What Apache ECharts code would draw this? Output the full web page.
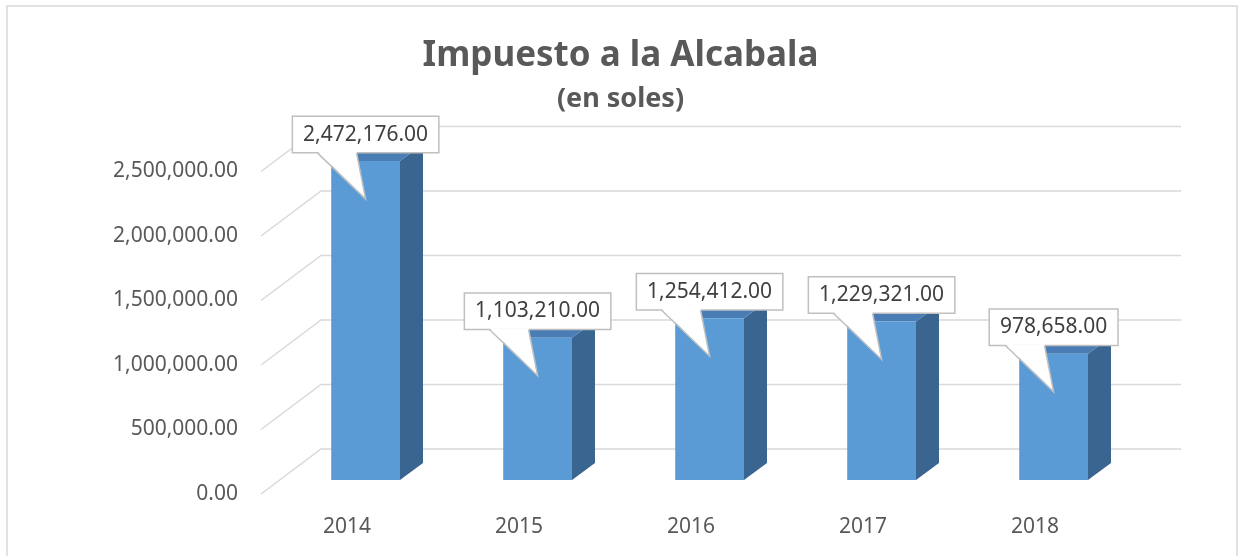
<!DOCTYPE html>
<html>
<head>
<meta charset="utf-8">
<script src="https://cdn.jsdelivr.net/npm/echarts@6/dist/echarts.min.js"></script>
<style>
  html, body { margin: 0; padding: 0; background: #fff; }
  #chart { width: 1241px; height: 556px; }
</style>
</head>
<body>
<div id="chart"></div>
<script>
// datos del gráfico
const years = ['2014', '2015', '2016', '2017', '2018'];
const recaudacion = [2472176, 1103210, 1254412, 1229321, 978658];
const yTicks = [0, 500000, 1000000, 1500000, 2000000, 2500000];

const fmt = v => v.toLocaleString('en-US', { minimumFractionDigits: 2, maximumFractionDigits: 2 });

// pseudo 3D: desplazamiento de la pared de fondo y de las barras
const WALL = [60, -45];
const BAR_FRONT = [18.6, -14];
const BAR_DEPTH = [23, -17];
const FONT = 'Noto Sans';

const chart = echarts.init(document.getElementById('chart'));

const option = {
  animation: false,
  backgroundColor: '#fff',
  title: {
    text: 'Impuesto a la Alcabala',
    subtext: '(en soles)',
    left: 'center',
    top: 34,
    itemGap: 12,
    textStyle: { fontFamily: FONT, fontWeight: 'bold', fontSize: 35, color: '#595959' },
    subtextStyle: { fontFamily: FONT, fontWeight: 'bold', fontSize: 27, color: '#595959' }
  },
  graphic: [{
    type: 'rect',
    shape: { x: 7, y: 6, width: 1230, height: 600 },
    style: { fill: 'none', stroke: '#d9d9d9', lineWidth: 1.5 },
    silent: true
  }],
  grid: { left: 261, right: 120, top: 171.5, bottom: 62 },
  xAxis: {
    type: 'category',
    data: years,
    axisLine: { show: false },
    axisTick: { show: false },
    axisLabel: { margin: 23, fontFamily: FONT, fontSize: 21, color: '#595959' }
  },
  yAxis: {
    type: 'value',
    min: 0,
    max: 2500000,
    interval: 500000,
    axisLine: { show: false },
    axisTick: { show: false },
    splitLine: { show: false },
    axisLabel: { margin: 23, fontFamily: FONT, fontSize: 21, color: '#595959', formatter: fmt }
  },
  series: [
    {
      // paredes: diagonal lateral + línea de la pared de fondo
      type: 'custom',
      clip: false,
      silent: true,
      data: yTicks.map(v => [0, v]),
      renderItem: (params, api) => {
        const cs = params.coordSys;
        const y = api.coord([0, api.value(1)])[1];
        return {
          type: 'polyline',
          shape: {
            points: [
              [cs.x, y],
              [cs.x + WALL[0], y + WALL[1]],
              [cs.x + cs.width + WALL[0], y + WALL[1]]
            ]
          },
          style: { stroke: '#d9d9d9', lineWidth: 1.5, fill: 'none' }
        };
      }
    },
    {
      type: 'custom',
      clip: false,
      data: recaudacion.map((v, i) => [i, v]),
      renderItem: (params, api) => {
        const i = api.value(0);
        const v = api.value(1);
        const base = api.coord([i, 0]);
        const top = api.coord([i, v]);
        const band = api.size([1, 0])[0];
        const w = band * 0.4;
        const left = base[0] + BAR_FRONT[0] - w / 2;
        const right = left + w;
        const yTop = top[1] + BAR_FRONT[1];
        const yBot = base[1] + BAR_FRONT[1];
        const cx = left + w / 2;
        const [dx, dy] = BAR_DEPTH;

        const boxBottom = yTop - 8;
        const boxH = 37;
        const tip = [cx, yTop + 38];
        const baseL = cx - 48;
        const baseR = cx - 9;

        return {
          type: 'group',
          children: [
            {
              type: 'polygon',
              shape: { points: [[right, yTop], [right + dx, yTop + dy], [right + dx, yBot + dy], [right, yBot]] },
              style: { fill: '#3a6590' }
            },
            {
              type: 'polygon',
              shape: { points: [[left, yTop], [left + dx, yTop + dy], [right + dx, yTop + dy], [right, yTop]] },
              style: { fill: '#4a7db3' }
            },
            {
              type: 'rect',
              shape: { x: left, y: yTop, width: w, height: yBot - yTop },
              style: { fill: '#5b9bd5' }
            },
            // globo de la etiqueta
            {
              type: 'text',
              z2: 10,
              x: cx,
              y: boxBottom - boxH / 2,
              style: {
                text: fmt(v),
                align: 'center',
                verticalAlign: 'middle',
                fontFamily: FONT,
                fontSize: 21,
                fill: '#404040',
                backgroundColor: '#fff',
                borderColor: '#bfbfbf',
                borderWidth: 1.5,
                padding: [5, 10, 5, 10],
                lineHeight: 25
              }
            },
            {
              type: 'polygon',
              z2: 11,
              shape: { points: [[baseL, boxBottom - 1.5], tip, [baseR, boxBottom - 1.5]] },
              style: { fill: '#fff' }
            },
            {
              type: 'polyline',
              z2: 12,
              shape: { points: [[baseL, boxBottom], tip, [baseR, boxBottom]] },
              style: { stroke: '#bfbfbf', lineWidth: 1.5, fill: 'none' }
            }
          ]
        };
      }
    }
  ]
};

chart.setOption(option);
</script>
</body>
</html>
